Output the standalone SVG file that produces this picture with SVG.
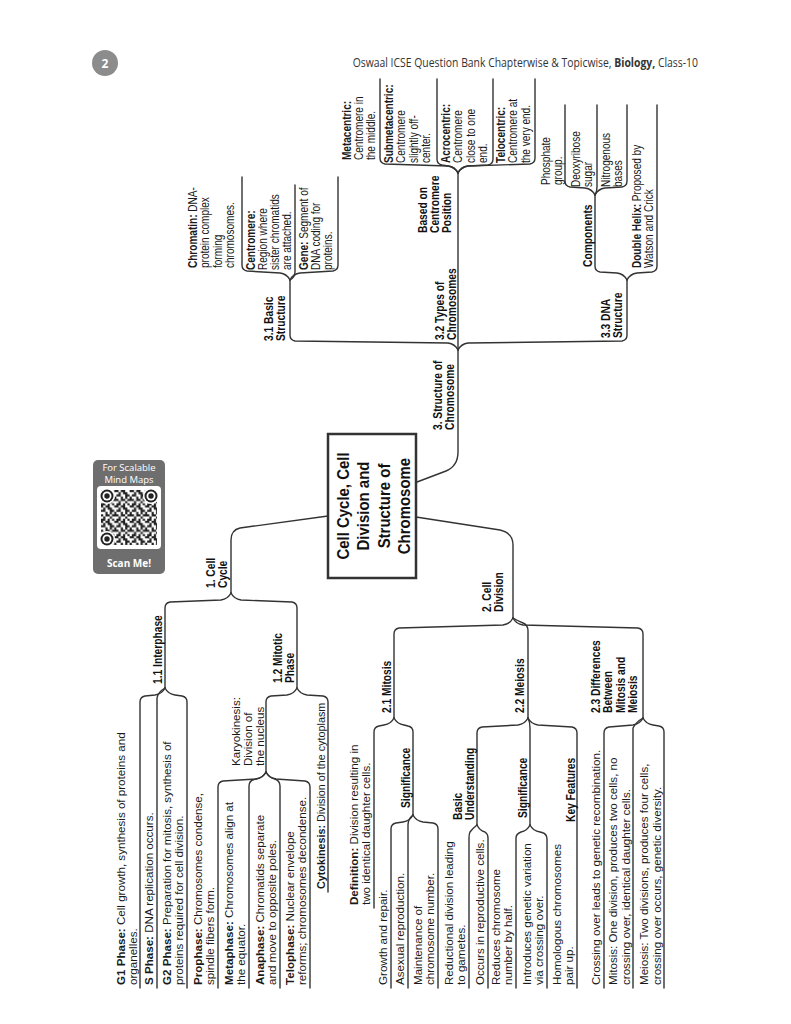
<svg xmlns="http://www.w3.org/2000/svg" width="791" height="1024" viewBox="0 0 791 1024">
<defs>
<style>
.c{fill:none;stroke:#333;stroke-width:1.4;stroke-linecap:round;stroke-linejoin:round}
.t{font-family:"Liberation Sans",Arial,sans-serif;font-size:11.6px;fill:#1a1a1a}
.tc{font-family:"Liberation Sans",Arial,sans-serif;font-size:12.4px;fill:#1a1a1a}
.b{font-weight:bold}
.lb{font-family:"Liberation Sans",Arial,sans-serif;font-size:12.8px;font-weight:bold;fill:#111}
.ttl{font-family:"Liberation Sans",Arial,sans-serif;font-size:17px;font-weight:bold;fill:#111;text-anchor:middle}
.hd{font-family:"Open Sans","Liberation Sans",sans-serif}
</style>
<pattern id="qrp" width="15.4" height="15.4" patternUnits="userSpaceOnUse" x="101" y="490">
<path fill="#222" d="M0 0h2.2v2.2h-2.2z M4.4 0h4.4v2.2h-4.4z M13.2 0h2.2v2.2h-2.2z M2.2 2.2h2.2v2.2h-2.2z M6.6 2.2h4.4v2.2h-4.4z M0 4.4h4.4v2.2h-4.4z M8.8 4.4h4.4v2.2h-4.4z M4.4 6.6h2.2v2.2h-2.2z M8.8 6.6h2.2v2.2h-2.2z M13.2 6.6h2.2v2.2h-2.2z M0 8.8h2.2v2.2h-2.2z M4.4 8.8h4.4v2.2h-4.4z M11 8.8h4.4v2.2h-4.4z M2.2 11h2.2v2.2h-2.2z M8.8 11h2.2v2.2h-2.2z M0 13.2h4.4v2.2h-4.4z M6.6 13.2h2.2v2.2h-2.2z M11 13.2h2.2v2.2h-2.2z"/>
</pattern>
</defs>
<rect width="791" height="1024" fill="#ffffff"/>

<g id="header">
<circle cx="105" cy="63" r="13" fill="#8c8c8c"/>
<text class="hd" x="105" y="67.5" font-size="12" font-weight="bold" fill="#ffffff" text-anchor="middle">2</text>
<text class="hd" transform="translate(698,67) scale(0.8,1)" font-size="13" fill="#333" text-anchor="end">Oswaal ICSE Question Bank Chapterwise &amp; Topicwise, <tspan font-weight="bold">Biology,</tspan> Class-10</text>
</g>

<g id="qr">
<rect x="93" y="460" width="72" height="114" rx="5" fill="#6e6e6e"/>
<text class="hd" x="129" y="471" font-size="9.5" fill="#fff" text-anchor="middle">For Scalable</text>
<text class="hd" x="129" y="483" font-size="9.5" fill="#fff" text-anchor="middle">Mind Maps</text>
<rect x="97" y="486" width="64" height="63" rx="4" fill="#fff"/>
<rect x="101" y="490" width="56" height="55" fill="url(#qrp)"/>
<circle cx="107" cy="496" r="8" fill="#fff"/><circle cx="107" cy="496" r="6.5" fill="#222"/><circle cx="107" cy="496" r="4.5" fill="#fff"/><circle cx="107" cy="496" r="2.7" fill="#222"/>
<circle cx="151" cy="496" r="8" fill="#fff"/><circle cx="151" cy="496" r="6.5" fill="#222"/><circle cx="151" cy="496" r="4.5" fill="#fff"/><circle cx="151" cy="496" r="2.7" fill="#222"/>
<circle cx="107" cy="539" r="8" fill="#fff"/><circle cx="107" cy="539" r="6.5" fill="#222"/><circle cx="107" cy="539" r="4.5" fill="#fff"/><circle cx="107" cy="539" r="2.7" fill="#222"/>
<text class="hd" x="129" y="567" font-size="10" font-weight="bold" fill="#fff" text-anchor="middle">Scan Me!</text>
</g>

<g id="connectors">
<path class="c" d="M417,482 L446,471 Q458,466 458,452 L458,350"/>
<path class="c" d="M328,516 L240,528 Q231,530 231,540 L231,593"/>
<path class="c" d="M416,517 L500,530 Q513,533 513,545 L513,618"/>
<path class="c" d="M458,350 Q455,344 448,343 L295,341 Q290,340 290,335 L290,280"/>
<path class="c" d="M458,350 L458,173"/>
<path class="c" d="M458,350 Q461,344 468,343 L622,341 Q627,340 627,335 L627,280"/>
<path class="c" d="M290,280 Q287,274 280,273 L247,271 Q242,270 242,265 L242,177"/>
<path class="c" d="M290,280 Q295,277 295,272 L295,185"/>
<path class="c" d="M290,280 Q293,274 300,273 L333,271 Q338,270 338,265 L338,177"/>
<path class="c" d="M458,173 Q455,167 448,166 L385,164 Q380,163 380,158 L380,79"/>
<path class="c" d="M458,173 Q455,167 448,166 L442,165 Q437,164 437,159 L437,79"/>
<path class="c" d="M458,173 Q461,167 468,166 L488,165 Q493,164 493,159 L493,79"/>
<path class="c" d="M458,173 Q461,167 468,166 L530,164 Q535,163 535,158 L535,79"/>
<path class="c" d="M627,280 Q624,274 617,273 L600,272 Q595,271 595,266 L595,195"/>
<path class="c" d="M627,280 Q630,274 637,273 L652,272 Q657,271 657,266 L657,105"/>
<path class="c" d="M595,195 Q592,189 585,188 L570,187 Q565,186 565,181 L565,105"/>
<path class="c" d="M595,195 Q597,192 597,187 L597,105"/>
<path class="c" d="M595,195 Q598,189 605,188 L622,187 Q627,186 627,181 L627,105"/>
<path class="c" d="M231,593 Q228,599 221,600 L170,602 Q165,603 165,608 L165,688"/>
<path class="c" d="M231,593 Q234,599 241,600 L292,602 Q297,603 297,608 L297,688"/>
<path class="c" d="M165,688 Q162,694 155,695 L145,696 Q140,697 140,702 L140,988"/>
<path class="c" d="M165,688 Q158,692 157,698 L157,988"/>
<path class="c" d="M165,688 Q168,694 175,695 L182,696 Q187,697 187,702 L187,988"/>
<path class="c" d="M297,688 Q294,694 287,695 L271,696 Q266,697 266,702 L266,772"/>
<path class="c" d="M297,688 Q300,694 307,695 L323,696 Q328,697 328,702 L328,892"/>
<path class="c" d="M266,772 Q263,778 256,779 L223,781 Q218,782 218,787 L218,988"/>
<path class="c" d="M266,772 Q263,778 256,779 L254,779.5 Q249,781 249,786 L249,988"/>
<path class="c" d="M266,772 Q269,778 275,779 Q280,781 280,786 L280,988"/>
<path class="c" d="M266,772 Q269,778 276,779 L305,781 Q310,782 310,787 L310,988"/>
<path class="c" d="M513,618 Q510,624 503,625 L399,628 Q394,629 394,634 L394,718"/>
<path class="c" d="M513,618 Q518,621 523,623 Q528,625 528,631 L528,718"/>
<path class="c" d="M513,618 Q516,624 523,625 L638,628 Q643,629 643,634 L643,718"/>
<path class="c" d="M394,718 Q391,724 384,725 L379,726 Q374,727 374,732 L374,908"/>
<path class="c" d="M394,718 Q397,724 404,725 L408,726 Q413,727 413,732 L413,815"/>
<path class="c" d="M413,815 Q410,821 403,822 L396,823 Q391,824 391,829 L391,988"/>
<path class="c" d="M413,815 Q408,819 408,825 L408,988"/>
<path class="c" d="M413,815 Q416,821 423,822 L433,823 Q438,824 438,829 L438,988"/>
<path class="c" d="M528,718 Q525,724 518,725 L482,727 Q477,728 477,733 L477,825"/>
<path class="c" d="M528,718 Q530,722 530,728 L530,825"/>
<path class="c" d="M528,718 Q531,724 538,725 L572,727 Q577,728 577,733 L577,988"/>
<path class="c" d="M477,825 Q472,829 470,832 Q469,834 469,838 L469,988"/>
<path class="c" d="M477,825 Q480,831 485,832 Q488,834 488,838 L488,988"/>
<path class="c" d="M530,825 Q527,831 521,832 Q516,834 516,838 L516,988"/>
<path class="c" d="M530,825 Q533,831 540,832 L542,832.5 Q547,834 547,839 L547,988"/>
<path class="c" d="M643,718 Q640,724 633,725 L609,727 Q604,728 604,733 L604,988"/>
<path class="c" d="M643,718 Q636,722 633,728 L633,988"/>
<path class="c" d="M643,718 Q646,724 653,725 L659,726 Q664,727 664,732 L664,988"/>
</g>

<g id="root">
<rect x="328" y="434" width="88" height="144" fill="#fff" stroke="#333" stroke-width="2.5"/>
<text class="ttl" transform="translate(349,506) rotate(-90) scale(0.88,1)"><tspan x="0" y="0">Cell Cycle, Cell</tspan><tspan x="0" y="20.3">Division and</tspan><tspan x="0" y="40.6">Structure of</tspan><tspan x="0" y="61">Chromosome</tspan></text>
</g>

<g id="n1"><text class="lb" transform="translate(215,588) rotate(-90) scale(0.8,1)"><tspan x="0" y="0">1. Cell</tspan><tspan x="0" y="12">Cycle</tspan></text></g>
<g id="n11"><text class="lb" transform="translate(162,684) rotate(-90) scale(0.8,1)">1.1 Interphase</text></g>
<g id="n12"><text class="lb" transform="translate(282,683) rotate(-90) scale(0.8,1)"><tspan x="0" y="0">1.2 Mitotic</tspan><tspan x="0" y="12">Phase</tspan></text></g>
<g id="n2"><text class="lb" transform="translate(491,612) rotate(-90) scale(0.8,1)"><tspan x="0" y="0">2. Cell</tspan><tspan x="0" y="12">Division</tspan></text></g>
<g id="n21"><text class="lb" transform="translate(391,713) rotate(-90) scale(0.8,1)">2.1 Mitosis</text></g>
<g id="n22"><text class="lb" transform="translate(524,713) rotate(-90) scale(0.8,1)">2.2 Meiosis</text></g>
<g id="n23"><text class="lb" transform="translate(600,713) rotate(-90) scale(0.8,1)"><tspan x="0" y="0">2.3 Differences</tspan><tspan x="0" y="12.3">Between</tspan><tspan x="0" y="24.6">Mitosis and</tspan><tspan x="0" y="36.9">Meiosis</tspan></text></g>
<g id="ns1"><text class="lb" transform="translate(410,808) rotate(-90) scale(0.8,1)">Significance</text></g>
<g id="nbu"><text class="lb" transform="translate(462,820) rotate(-90) scale(0.8,1)"><tspan x="0" y="0">Basic</tspan><tspan x="0" y="12">Understanding</tspan></text></g>
<g id="ns2"><text class="lb" transform="translate(527,818) rotate(-90) scale(0.8,1)">Significance</text></g>
<g id="nkf"><text class="lb" transform="translate(575,822) rotate(-90) scale(0.8,1)">Key Features</text></g>
<g id="n3"><text class="lb" transform="translate(442,430) rotate(-90) scale(0.8,1)"><tspan x="0" y="0">3. Structure of</tspan><tspan x="0" y="12">Chromosome</tspan></text></g>
<g id="n31"><text class="lb" transform="translate(273,341) rotate(-90) scale(0.8,1)"><tspan x="0" y="0">3.1 Basic</tspan><tspan x="0" y="12">Structure</tspan></text></g>
<g id="n32"><text class="lb" transform="translate(444,340) rotate(-90) scale(0.8,1)"><tspan x="0" y="0">3.2 Types of</tspan><tspan x="0" y="12">Chromosomes</tspan></text></g>
<g id="nbc"><text class="lb" transform="translate(427,233) rotate(-90) scale(0.8,1)"><tspan x="0" y="0">Based on</tspan><tspan x="0" y="12">Centromere</tspan><tspan x="0" y="24">Position</tspan></text></g>
<g id="n33"><text class="lb" transform="translate(610,338) rotate(-90) scale(0.8,1)"><tspan x="0" y="0">3.3 DNA</tspan><tspan x="0" y="12">Structure</tspan></text></g>
<g id="ncomp"><text class="lb" transform="translate(592,267) rotate(-90) scale(0.8,1)">Components</text></g>

<g id="nkaryo"><text class="t" transform="translate(240,766) rotate(-90)"><tspan x="0" y="0">Karyokinesis:</tspan><tspan x="0" y="12">Division of</tspan><tspan x="0" y="24">the nucleus</tspan></text></g>
<g id="nchromatin"><text class="tc" transform="translate(197,268) rotate(-90) scale(0.81,1)"><tspan x="0" y="0"><tspan class="b">Chromatin:</tspan> DNA-</tspan><tspan x="0" y="12.5">protein complex</tspan><tspan x="0" y="25">forming</tspan><tspan x="0" y="37.5">chromosomes.</tspan></text></g>
<g id="ncentromere"><text class="tc" transform="translate(255,270) rotate(-90) scale(0.81,1)"><tspan x="0" y="0" class="b">Centromere:</tspan><tspan x="0" y="12">Region where</tspan><tspan x="0" y="24">sister chromatids</tspan><tspan x="0" y="36">are attached.</tspan></text></g>
<g id="ngene"><text class="tc" transform="translate(308,270) rotate(-90) scale(0.81,1)"><tspan x="0" y="0"><tspan class="b">Gene:</tspan> Segment of</tspan><tspan x="0" y="12">DNA coding for</tspan><tspan x="0" y="24">proteins.</tspan></text></g>
<g id="nmeta"><text class="tc" transform="translate(351,160) rotate(-90) scale(0.81,1)"><tspan x="0" y="0" class="b">Metacentric:</tspan><tspan x="0" y="12">Centromere in</tspan><tspan x="0" y="24">the middle.</tspan></text></g>
<g id="nsubmeta"><text class="tc" transform="translate(393,163) rotate(-90) scale(0.81,1)"><tspan x="0" y="0" class="b">Submetacentric:</tspan><tspan x="0" y="12.5">Centromere</tspan><tspan x="0" y="25">slightly off-</tspan><tspan x="0" y="37.5">center.</tspan></text></g>
<g id="nacro"><text class="tc" transform="translate(450,163) rotate(-90) scale(0.81,1)"><tspan x="0" y="0" class="b">Acrocentric:</tspan><tspan x="0" y="12.5">Centromere</tspan><tspan x="0" y="25">close to one</tspan><tspan x="0" y="37.5">end.</tspan></text></g>
<g id="ntelo"><text class="tc" transform="translate(505,163) rotate(-90) scale(0.81,1)"><tspan x="0" y="0" class="b">Telocentric:</tspan><tspan x="0" y="12.5">Centromere at</tspan><tspan x="0" y="25">the very end.</tspan></text></g>
<g id="nphos"><text class="tc" transform="translate(550,185) rotate(-90) scale(0.81,1)"><tspan x="0" y="0">Phosphate</tspan><tspan x="0" y="12.5">group.</tspan></text></g>
<g id="ndeoxy"><text class="tc" transform="translate(580,187) rotate(-90) scale(0.81,1)"><tspan x="0" y="0">Deoxyribose</tspan><tspan x="0" y="12.5">sugar</tspan></text></g>
<g id="nnitro"><text class="tc" transform="translate(610,187) rotate(-90) scale(0.81,1)"><tspan x="0" y="0">Nitrogenous</tspan><tspan x="0" y="12.5">bases</tspan></text></g>
<g id="nhelix"><text class="tc" transform="translate(641,268) rotate(-90) scale(0.81,1)"><tspan x="0" y="0"><tspan class="b">Double Helix:</tspan> Proposed by</tspan><tspan x="0" y="12.5">Watson and Crick</tspan></text></g>

<g id="ng1"><text class="t" transform="translate(125,985) rotate(-90)"><tspan x="0" y="0"><tspan class="b">G1 Phase:</tspan> Cell growth, synthesis of proteins and</tspan><tspan x="0" y="12">organelles.</tspan></text></g>
<g id="ns"><text class="t" transform="translate(153,985) rotate(-90)"><tspan class="b">S Phase:</tspan> DNA replication occurs.</text></g>
<g id="ng2"><text class="t" transform="translate(171,985) rotate(-90)"><tspan x="0" y="0"><tspan class="b">G2 Phase:</tspan> Preparation for mitosis, synthesis of</tspan><tspan x="0" y="12">proteins required for cell division.</tspan></text></g>
<g id="npro"><text class="t" transform="translate(202,985) rotate(-90)"><tspan x="0" y="0"><tspan class="b">Prophase:</tspan> Chromosomes condense,</tspan><tspan x="0" y="12">spindle fibers form.</tspan></text></g>
<g id="nmetaph"><text class="t" transform="translate(233,985) rotate(-90)"><tspan x="0" y="0"><tspan class="b">Metaphase:</tspan> Chromosomes align at</tspan><tspan x="0" y="12">the equator.</tspan></text></g>
<g id="nana"><text class="t" transform="translate(264,985) rotate(-90)"><tspan x="0" y="0"><tspan class="b">Anaphase:</tspan> Chromatids separate</tspan><tspan x="0" y="12">and move to opposite poles.</tspan></text></g>
<g id="ntelop"><text class="t" transform="translate(294,985) rotate(-90)"><tspan x="0" y="0"><tspan class="b">Telophase:</tspan> Nuclear envelope</tspan><tspan x="0" y="12">reforms; chromosomes decondense.</tspan></text></g>
<g id="ncyto"><text class="t" transform="translate(325,889) rotate(-90) scale(0.93,1)"><tspan class="b">Cytokinesis:</tspan> Division of the cytoplasm</text></g>
<g id="ndef"><text class="t" transform="translate(358,905) rotate(-90)"><tspan x="0" y="0"><tspan class="b">Definition:</tspan> Division resulting in</tspan><tspan x="0" y="12">two identical daughter cells.</tspan></text></g>
<g id="ngrowth"><text class="t" transform="translate(387,985) rotate(-90)">Growth and repair.</text></g>
<g id="nasex"><text class="t" transform="translate(404,985) rotate(-90)">Asexual reproduction.</text></g>
<g id="nmaint"><text class="t" transform="translate(422,985) rotate(-90)"><tspan x="0" y="0">Maintenance of</tspan><tspan x="0" y="12">chromosome number.</tspan></text></g>
<g id="nred"><text class="t" transform="translate(453,985) rotate(-90)"><tspan x="0" y="0">Reductional division leading</tspan><tspan x="0" y="12">to gametes.</tspan></text></g>
<g id="nocc"><text class="t" transform="translate(484,985) rotate(-90)">Occurs in reproductive cells.</text></g>
<g id="nredu"><text class="t" transform="translate(500,985) rotate(-90)"><tspan x="0" y="0">Reduces chromosome</tspan><tspan x="0" y="12">number by half.</tspan></text></g>
<g id="nintro"><text class="t" transform="translate(531,985) rotate(-90)"><tspan x="0" y="0">Introduces genetic variation</tspan><tspan x="0" y="12">via crossing over.</tspan></text></g>
<g id="nhomo"><text class="t" transform="translate(561,985) rotate(-90)"><tspan x="0" y="0">Homologous chromosomes</tspan><tspan x="0" y="12">pair up.</tspan></text></g>
<g id="ncross"><text class="t" transform="translate(600,985) rotate(-90)">Crossing over leads to genetic recombination.</text></g>
<g id="nmit"><text class="t" transform="translate(617,985) rotate(-90)"><tspan x="0" y="0">Mitosis: One division, produces two cells, no</tspan><tspan x="0" y="12.5">crossing over, identical daughter cells.</tspan></text></g>
<g id="nmei"><text class="t" transform="translate(648,985) rotate(-90)"><tspan x="0" y="0">Meiosis: Two divisions, produces four cells,</tspan><tspan x="0" y="12.5">crossing over occurs, genetic diversity.</tspan></text></g>
</svg>
